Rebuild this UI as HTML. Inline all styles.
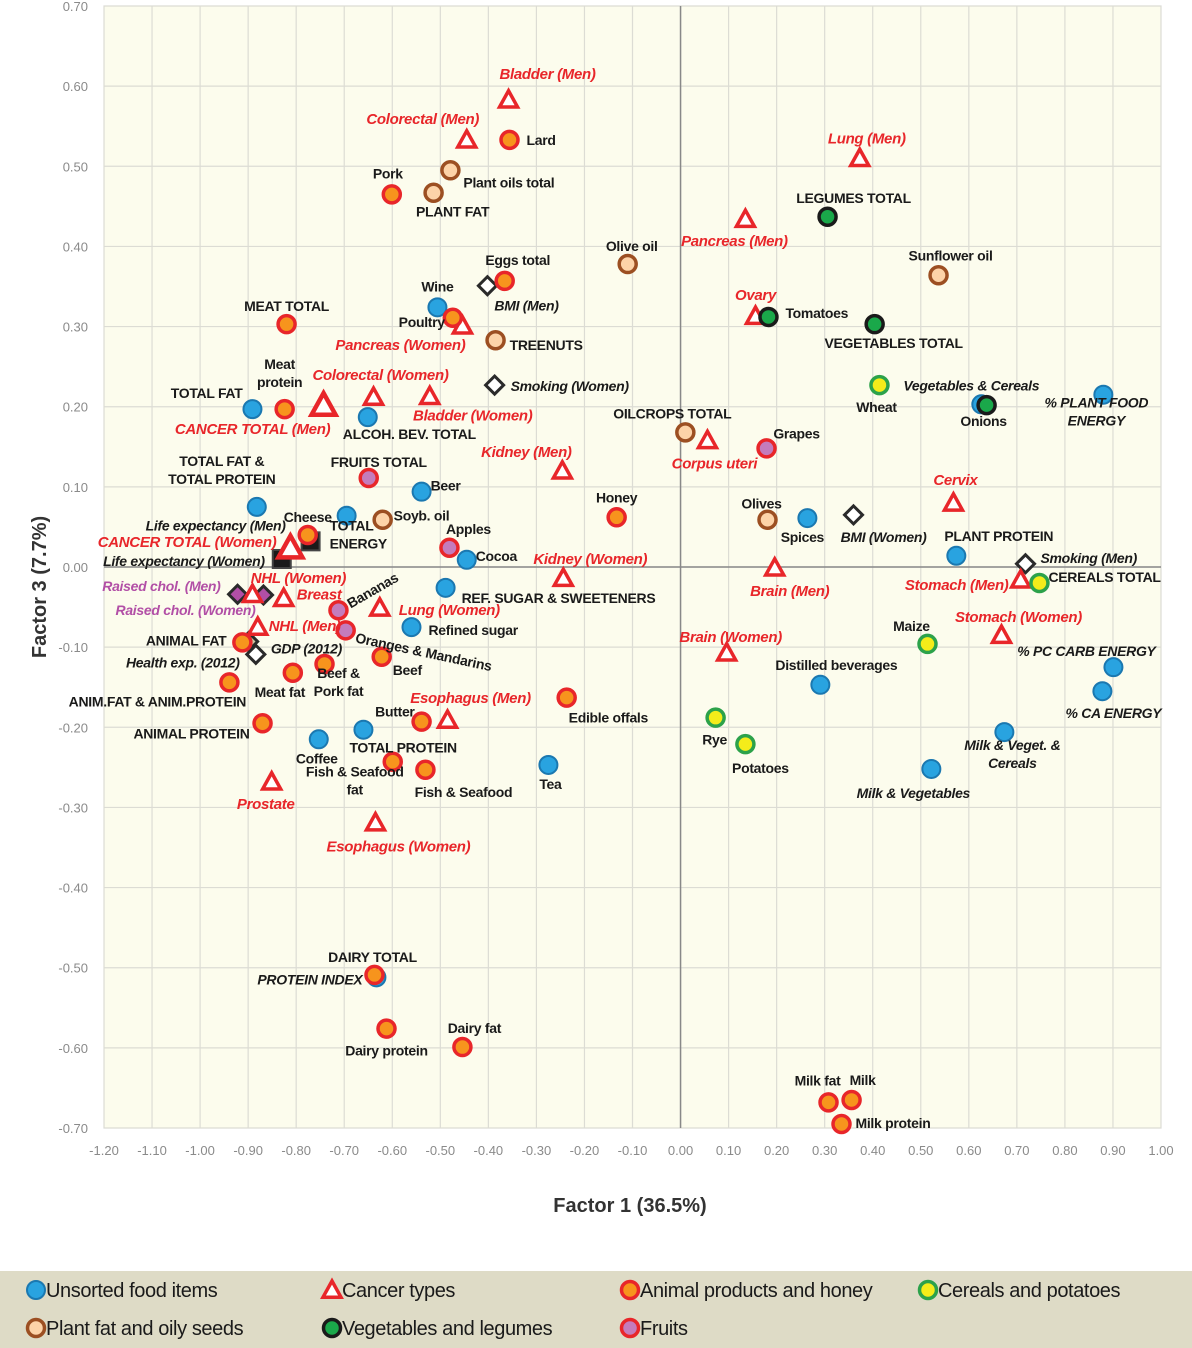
<!DOCTYPE html>
<html><head><meta charset="utf-8">
<style>
html,body{margin:0;padding:0;background:#fff;}
svg{display:block;font-family:"Liberation Sans",sans-serif;}
</style></head>
<body>
<svg id="chart" width="1192" height="1348" viewBox="0 0 1192 1348" xmlns="http://www.w3.org/2000/svg">
<rect x="0" y="0" width="1192" height="1348" fill="#ffffff"/>
<rect x="104" y="6" width="1057" height="1122" fill="#fcfced" stroke="#c8c8c8" stroke-width="1"/>
<g id="grid"></g>
<g id="axes"></g>
<g id="points"></g>
<g id="labels"></g>
<text x="630" y="1212" text-anchor="middle" font-size="20" font-weight="bold" fill="#333">Factor 1 (36.5%)</text>
<text transform="translate(46,587) rotate(-90)" text-anchor="middle" font-size="20" font-weight="bold" fill="#333">Factor 3 (7.7%)</text>
<g>
<rect x="0" y="1271" width="1192" height="77" fill="#dedbc6"/>
</g>
<g id="legend"></g>
</svg>
<script>
// ---- data ----
const xTicks = [-1.2,-1.1,-1.0,-0.9,-0.8,-0.7,-0.6,-0.5,-0.4,-0.3,-0.2,-0.1,0,0.1,0.2,0.3,0.4,0.5,0.6,0.7,0.8,0.9,1.0];
const yTicks = [0.7,0.6,0.5,0.4,0.3,0.2,0.1,0,-0.1,-0.2,-0.3,-0.4,-0.5,-0.6,-0.7];
const categoryNames = ["Unsorted food items","Cancer types","Animal products and honey","Cereals and potatoes","Plant fat and oily seeds","Vegetables and legumes","Fruits"];

const pointNames = [
"Wine","TOTAL FAT","ALCOH. BEV. TOTAL","TOTAL FAT &\nTOTAL PROTEIN","Beer","TOTAL\nENERGY","Cocoa","REF. SUGAR & SWEETENERS","Refined sugar","TOTAL PROTEIN","Coffee","Tea","Distilled beverages","Spices","PLANT PROTEIN","% PLANT FOOD\nENERGY","Vegetables & Cereals","% PC CARB ENERGY","% CA ENERGY","Milk & Veget. &\nCereals","Milk & Vegetables","PROTEIN INDEX",
"BMI (Men)","Smoking (Women)","BMI (Women)","Smoking (Men)","Raised chol. (Men)","Raised chol. (Women)","GDP (2012)","Health exp. (2012)","Life expectancy (Women)","Life expectancy (Men)",
"Bladder (Men)","Colorectal (Men)","Lung (Men)","Pancreas (Men)","Ovary","Pancreas (Women)","Colorectal (Women)","Bladder (Women)","CANCER TOTAL (Men)","Kidney (Men)","Corpus uteri","Cervix","CANCER TOTAL (Women)","NHL (Women)","Breast","NHL (Men)","Lung (Women)","Kidney (Women)","Brain (Men)","Stomach (Men)","Stomach (Women)","Brain (Women)","Esophagus (Men)","Prostate","Esophagus (Women)",
"Lard","Pork","Eggs total","Poultry","MEAT TOTAL","Meat\nprotein","Cheese","Honey","ANIMAL FAT","ANIM.FAT & ANIM.PROTEIN","Meat fat","Beef &\nPork fat","Beef","ANIMAL PROTEIN","Butter","Fish & Seafood\nfat","Fish & Seafood","Edible offals","DAIRY TOTAL","Dairy protein","Dairy fat","Milk fat","Milk","Milk protein",
"Plant oils total","PLANT FAT","TREENUTS","Olive oil","Sunflower oil","OILCROPS TOTAL","Soyb. oil","Olives",
"LEGUMES TOTAL","Tomatoes","VEGETABLES TOTAL","Onions",
"Wheat","CEREALS TOTAL","Maize","Rye","Potatoes",
"FRUITS TOTAL","Apples","Bananas","Oranges & Mandarins","Grapes"
];
const factor1 = [
-0.506,-0.891,-0.651,-0.882,-0.539,-0.695,-0.445,-0.489,-0.560,-0.660,-0.753,-0.275,0.291,0.264,0.574,0.880,0.626,0.901,0.878,0.674,0.522,-0.633,
-0.402,-0.387,0.360,0.718,-0.922,-0.868,-0.884,-0.899,-0.830,-0.770,
-0.358,-0.445,0.373,0.135,0.156,-0.454,-0.639,-0.522,-0.743,-0.246,0.056,0.568,-0.812,-0.891,-0.826,-0.880,-0.626,-0.244,0.196,0.708,0.668,0.096,-0.485,-0.851,-0.635,
-0.356,-0.601,-0.366,-0.474,-0.820,-0.824,-0.776,-0.133,-0.912,-0.939,-0.807,-0.741,-0.622,-0.870,-0.539,-0.599,-0.531,-0.237,-0.637,-0.612,-0.454,0.308,0.356,0.335,
-0.479,-0.514,-0.385,-0.110,0.537,0.010,-0.620,0.181,
0.306,0.183,0.404,0.637,
0.414,0.747,0.514,0.073,0.135,
-0.649,-0.481,-0.712,-0.697,0.179
];
const factor3 = [
0.324,0.197,0.187,0.075,0.094,0.064,0.009,-0.026,-0.075,-0.203,-0.215,-0.247,-0.147,0.061,0.014,0.215,0.203,-0.125,-0.155,-0.206,-0.252,-0.512,
0.351,0.227,0.065,0.004,-0.034,-0.035,-0.109,-0.093,0.010,0.032,
0.583,0.533,0.510,0.434,0.313,0.301,0.212,0.213,0.202,0.120,0.158,0.080,0.024,-0.034,-0.039,-0.075,-0.051,-0.014,-0.001,-0.016,-0.085,-0.107,-0.191,-0.268,-0.319,
0.533,0.465,0.357,0.311,0.303,0.197,0.040,0.062,-0.094,-0.144,-0.132,-0.121,-0.112,-0.195,-0.193,-0.243,-0.253,-0.163,-0.509,-0.576,-0.599,-0.668,-0.665,-0.695,
0.495,0.467,0.283,0.378,0.364,0.168,0.059,0.059,
0.437,0.312,0.303,0.202,
0.227,-0.020,-0.096,-0.188,-0.221,
0.111,0.024,-0.054,-0.079,0.148
];
const pointTypes = [
"u","u","u","u","u","u","u","u","u","u","u","u","u","u","u","u","u","u","u","u","u","u",
"d","d","d","d","dp","dp","d","dt","s","s",
"c","c","c","c","c","c","c","c","C","c","c","c","C","c","c","c","c","c","c","c","c","c","c","c","c",
"a","a","a","a","a","a","a","a","a","a","a","a","a","a","a","a","a","a","a","a","a","a","a","a",
"p","p","p","p","p","p","p","p",
"v","v","v","v",
"g","g","g","g","g",
"f","f","f","f","f"
];
// label placement (styling): [dx, dy, anchor, style, rotate]
const labelLayout = [
[0,-21,"m","b"],[-10,-16,"e","b"],[-25,17,"s","b"],[-35,-37,"m","b"],[9,-6,"s","b"],[-17,19,"s","b"],[9,-4,"s","b"],[16,10,"s","b"],[17,3,"s","b"],[-14,18,"s","b"],[-2,19,"m","b"],[2,19,"m","b"],[16,-20,"m","b"],[-5,19,"m","b"],[-12,-20,"s","b"],[-7,17,"m","i"],[-10,-19,"m","i"],[-27,-16,"m","i"],[11,22,"m","i"],[8,22,"m","i"],[-18,24,"m","i"],[-14,2,"e","i"],
[7,20,"s","i"],[16,1,"s","i"],[30,22,"m","i"],[15,-6,"s","i"],[-17,-8,"e","pu"],[-8,15,"e","pu"],[15,-6,"s","i"],[-9,21,"e","i"],[-17,2,"e","i"],[-25,-16,"e","i"],
[39,-26,"m","r"],[-44,-21,"m","r"],[7,-20,"m","r"],[-11,22,"m","r"],[0,-21,"m","r"],[-62,19,"m","r"],[7,-22,"m","r"],[43,19,"m","r"],[-71,24,"m","r"],[-36,-19,"m","r"],[7,23,"m","r"],[2,-23,"m","r"],[-14,-6,"e","r"],[46,-16,"m","r"],[13,-4,"s","r"],[11,-1,"s","r"],[19,2,"s","r"],[27,-19,"m","r"],[15,23,"m","r"],[-64,5,"m","r"],[17,-18,"m","r"],[4,-16,"m","r"],[23,-22,"m","r"],[-6,22,"m","r"],[23,24,"m","r"],
[17,0,"s","b"],[-4,-21,"m","b"],[13,-21,"m","b"],[-8,4,"e","b"],[0,-18,"m","b"],[-5,-36,"m","b"],[0,-18,"m","b"],[0,-20,"m","b"],[-16,-2,"e","b"],[-72,19,"m","b"],[-13,19,"m","b"],[14,18,"m","b"],[11,13,"s","b"],[-13,10,"e","b"],[-7,-10,"e","b"],[-38,19,"m","b"],[38,22,"m","b"],[2,20,"s","b"],[-2,-18,"m","b"],[0,22,"m","b"],[12,-19,"m","b"],[-11,-22,"m","b"],[11,-20,"m","b"],[14,-1,"s","b"],
[13,12,"s","b"],[19,19,"m","b"],[14,5,"s","b"],[4,-18,"m","b"],[12,-20,"m","b"],[-13,-19,"m","b"],[11,-4,"s","b"],[-6,-16,"m","b"],
[26,-19,"m","b"],[17,-4,"s","b"],[19,19,"m","b"],[-3,16,"m","b"],
[-3,22,"m","b"],[9,-6,"s","b"],[-16,-18,"m","b"],[-1,22,"m","b"],[15,24,"m","b"],
[10,-16,"m","b"],[19,-19,"m","b"],[34,-20,"m","b",-30],[10,7,"s","b",12],[30,-15,"m","b"]
];

// ---- axes ----
const X0=104,X1=1161,Y0=6,Y1=1128;
const xScale = v => X0 + (v+1.2)/2.2*(X1-X0);
const yScale = v => Y0 + (0.7-v)/1.4*(Y1-Y0);
const NS="http://www.w3.org/2000/svg";
function mk(tag,attrs,parent){const e=document.createElementNS(NS,tag);for(const k in attrs)e.setAttribute(k,attrs[k]);parent.appendChild(e);return e;}
const grid=document.getElementById('grid'),axes=document.getElementById('axes');
xTicks.forEach(t=>{
  const x=xScale(t);
  const gl=mk('line',{x1:x,x2:x,y1:Y0,y2:Y1,stroke:'#dcdcd4','stroke-width':1.2},grid);
  
  
  const tx=mk('text',{x:x,y:1155,'text-anchor':'middle','font-size':13,fill:'#8a8a8a'},axes);
  tx.textContent=t.toFixed(2);
  
  
});
yTicks.forEach(t=>{
  const y=yScale(t);
  const gl=mk('line',{x1:X0,x2:X1,y1:y,y2:y,stroke:'#dcdcd4','stroke-width':1.2},grid);
  
  
  const tx=mk('text',{x:88,y:y+5,'text-anchor':'end','font-size':13,fill:'#8a8a8a'},axes);
  tx.textContent=(Math.abs(t)<1e-9?0:t).toFixed(2);
  
  
});
const ax=mk('line',{x1:xScale(0),x2:xScale(0),y1:Y0,y2:Y1,stroke:'#888','stroke-width':1.5},axes);


const ay=mk('line',{x1:X0,x2:X1,y1:yScale(0),y2:yScale(0),stroke:'#888','stroke-width':1.5},axes);



// ---- markers ----
const circleStyles={u:['#29a3e0','#1b78b0',2],a:['#f7941d','#e8262a',3.5],p:['#fdd3a8','#9c4f22',3.5],v:['#1aa84a','#1a1a1a',3.5],g:['#f4ec1a','#2ca24a',3.5],f:['#c47cbc','#e8262a',3.5]};
function drawMarker(type,cx,cy,parent){
  let el;
  if(circleStyles[type]){
    const r=type==='u'?9:8.5;
    el=mk('circle',{cx:cx,cy:cy,r:r,fill:circleStyles[type][0],stroke:circleStyles[type][1],'stroke-width':circleStyles[type][2]},parent);
  } else if(type==='c'||type==='C'){
    const s=type==='C'?12:9;
    el=mk('polygon',{points:`${cx},${cy-s} ${cx+s},${cy+s*0.8} ${cx-s},${cy+s*0.8}`,fill:'#fff',stroke:'#e8262a','stroke-width':type==='C'?4.5:3.5,'stroke-linejoin':'miter'},parent);
  } else if(type==='d'||type==='dp'||type==='dt'){
    const s=9,f=type==='dp'?'#b24fa6':(type==='dt'?'#cfc7a4':'#fff');
    el=mk('polygon',{points:`${cx},${cy-s} ${cx+s},${cy} ${cx},${cy+s} ${cx-s},${cy}`,fill:f,stroke:'#2a2a2a','stroke-width':3},parent);
  } else {
    el=mk('rect',{x:cx-9,y:cy-9,width:18,height:18,fill:'#1a1a1a',stroke:'#444','stroke-width':2},parent);
  }
  return el;
}
const pts=document.getElementById('points'),lbs=document.getElementById('labels');
const styleMap={b:['normal','#1a1a1a',14],i:['italic','#1a1a1a',14],r:['italic','#e8262a',15],pu:['italic','#b24fa6',14]};
const anchorMap={m:'middle',s:'start',e:'end'};
pointNames.forEach((name,i)=>{
  const cx=xScale(factor1[i]),cy=yScale(factor3[i]);
  const m=drawMarker(pointTypes[i],cx,cy,pts);
  
  
  const L=labelLayout[i],st=styleMap[L[3]];
  const lx=cx+L[0],ly=cy+L[1];
  const lines=name.split('\n');
  const t=mk('text',{x:lx,y:ly,'text-anchor':anchorMap[L[2]],'font-size':st[2],'font-weight':'bold','font-style':st[0],fill:st[1],'letter-spacing':'-0.3'},lbs);
  if(L[4])t.setAttribute('transform',`rotate(${L[4]},${lx},${ly})`);
  lines.forEach((ln,k)=>{
    const ts=mk('tspan',{x:lx,y:ly+5+(k-(lines.length-1)/2)*18},t);
    ts.textContent=ln;
  });
  
  
});

// ---- legend ----
const lg=document.getElementById('legend');
const legendTypes=['u','c','a','g','p','v','f'];
const legendPos=[[36,1290],[332,1290],[630,1290],[928,1290],[36,1328],[332,1328],[630,1328]];
categoryNames.forEach((n,i)=>{
  const [x,y]=legendPos[i];
  const m=drawMarker(legendTypes[i],x,y,lg);
  
  
  const t=mk('text',{x:x+10,y:y+7,'font-size':20,fill:'#1a1a1a','letter-spacing':'-0.4'},lg);
  t.textContent=n;
  
  
});
</script>
</body></html>
